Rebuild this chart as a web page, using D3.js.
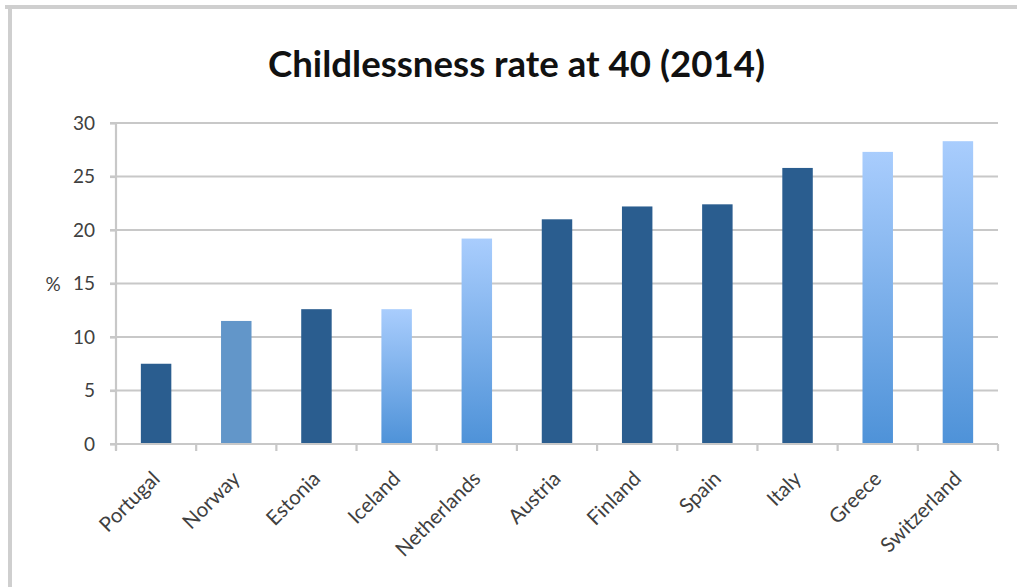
<!DOCTYPE html>
<html>
<head>
<meta charset="utf-8">
<script src="https://cdn.jsdelivr.net/npm/d3@7/dist/d3.min.js"></script>
<style>
  html, body { margin: 0; padding: 0; background: #ffffff; }
  svg { display: block; }
</style>
</head>
<body>
<svg id="chart" width="1017" height="587"></svg>
<script>
const categories = ["Portugal", "Norway", "Estonia", "Iceland", "Netherlands", "Austria", "Finland", "Spain", "Italy", "Greece", "Switzerland"];
const values = [7.5, 11.5, 12.6, 12.6, 19.2, 21.0, 22.2, 22.4, 25.8, 27.3, 28.3];
const barStyles = ["dark", "mid", "dark", "grad", "grad", "dark", "dark", "dark", "dark", "grad", "grad"];
const yTicks = [0, 5, 10, 15, 20, 25, 30];
const titleText = "Childlessness rate at 40 (2014)";
const yLabel = "%";

const svg = d3.select("#chart");
const W = 1017, H = 587;
const margin = { left: 116, right: 19, top: 123, bottom: 143 };
const plotW = W - margin.left - margin.right;
const plotH = H - margin.top - margin.bottom;
const fontFam = "Lato, 'Open Sans', sans-serif";
const tickSize = "19px";
const catSize = "20.5px";

svg.append("rect").attr("width", W).attr("height", H).attr("fill", "#fff");

// outer frame
svg.append("rect").attr("x", 5).attr("y", 5).attr("width", W - 5).attr("height", 4).attr("fill", "#cfcfcf");
svg.append("rect").attr("x", 8).attr("y", 5).attr("width", 4).attr("height", H - 5).attr("fill", "#cfcfcf");

const defs = svg.append("defs");
const grad = defs.append("linearGradient").attr("id", "lightGrad")
  .attr("x1", 0).attr("y1", 0).attr("x2", 0).attr("y2", 1);
grad.append("stop").attr("offset", "0%").attr("stop-color", "#a9cdfd");
grad.append("stop").attr("offset", "100%").attr("stop-color", "#4e92d8");

const fills = { dark: "#2a5d8f", mid: "#6296c9", grad: "url(#lightGrad)" };

const x = d3.scaleBand().domain(categories).range([margin.left, margin.left + plotW]).paddingInner(0.62).paddingOuter(0.31);
const y = d3.scaleLinear().domain([0, 30]).range([margin.top + plotH, margin.top]);

// gridlines
svg.append("g").selectAll("line").data(yTicks.filter(d => d > 0)).join("line")
  .attr("x1", margin.left - 6).attr("x2", margin.left + plotW)
  .attr("y1", d => y(d)).attr("y2", d => y(d))
  .attr("stroke", "#c8c8c8").attr("stroke-width", 2.2);

// bars
svg.append("g").selectAll("rect").data(categories).join("rect")
  .attr("x", d => x(d))
  .attr("width", x.bandwidth())
  .attr("y", (d, i) => y(values[i]))
  .attr("height", (d, i) => y(0) - y(values[i]))
  .attr("fill", (d, i) => fills[barStyles[i]]);

// y axis
const yAxis = d3.axisLeft(y).tickValues(yTicks).tickSize(6).tickPadding(15).tickFormat(d3.format("d"));
const gy = svg.append("g").attr("transform", `translate(${margin.left},0)`).call(yAxis);
gy.select(".domain").attr("stroke", "#c8c8c8").attr("stroke-width", 2.2)
  .attr("d", `M0,${margin.top}V${y(0) + 6}`);
gy.selectAll(".tick line").attr("stroke", "#c8c8c8").attr("stroke-width", 2.2);
gy.selectAll(".tick text").attr("fill", "#404040").style("font-family", fontFam).style("font-size", tickSize);

// x axis
const boundaries = d3.range(categories.length + 1);
const step = plotW / categories.length;
const gx = svg.append("g");
gx.append("line").attr("x1", margin.left - 6).attr("x2", margin.left + plotW)
  .attr("y1", y(0)).attr("y2", y(0)).attr("stroke", "#c8c8c8").attr("stroke-width", 2.2);
gx.selectAll("line.tk").data(boundaries).join("line").attr("class", "tk")
  .attr("x1", d => margin.left + d * step).attr("x2", d => margin.left + d * step)
  .attr("y1", y(0)).attr("y2", y(0) + 7)
  .attr("stroke", "#c8c8c8").attr("stroke-width", 2.2);

gx.selectAll("text.xl").data(categories).join("text").attr("class", "xl")
  .attr("transform", d => `translate(${x(d) + x.bandwidth() / 2 + 5},${y(0) + 36}) rotate(-45)`)
  .attr("text-anchor", "end")
  .attr("fill", "#404040")
  .style("font-family", fontFam).style("font-size", catSize)
  .text(d => d);

// y label
svg.append("text").attr("x", 53).attr("y", y(15) + 7).attr("text-anchor", "middle")
  .attr("fill", "#404040").style("font-family", fontFam).style("font-size", tickSize)
  .text(yLabel);

// title
svg.append("text").attr("x", 268).attr("y", 77)
  .attr("textLength", 497).attr("lengthAdjust", "spacingAndGlyphs")
  .attr("fill", "#111")
  .style("font-family", fontFam).style("font-weight", "bold").style("font-size", "37px")
  .text(titleText);
</script>
</body>
</html>
